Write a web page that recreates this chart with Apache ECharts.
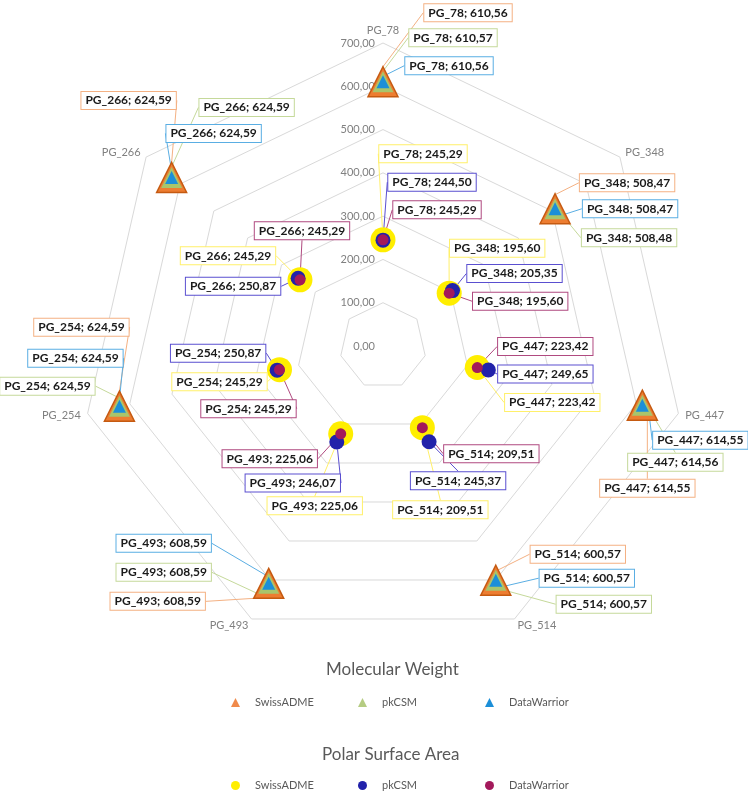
<!DOCTYPE html>
<html>
<head>
<meta charset="utf-8">
<script src="https://cdn.jsdelivr.net/npm/echarts@6/dist/echarts.min.js"></script>
<style>
html, body { margin: 0; padding: 0; background: #fff; }
#chart { width: 748px; height: 792px; }
</style>
</head>
<body>
<div id="chart"></div>
<script>
// axis order, clockwise from the top
var categories = ['PG_78', 'PG_348', 'PG_447', 'PG_514', 'PG_493', 'PG_254', 'PG_266'];
var tools = ['SwissADME', 'pkCSM', 'DataWarrior'];

// Molecular Weight
var mwSwiss       = [610.56, 508.47, 614.55, 600.57, 608.59, 624.59, 624.59];
var mwPkcsm       = [610.57, 508.48, 614.56, 600.57, 608.59, 624.59, 624.59];
var mwDataWarrior = [610.56, 508.47, 614.55, 600.57, 608.59, 624.59, 624.59];

// Polar Surface Area
var psaSwiss       = [245.29, 195.60, 223.42, 209.51, 225.06, 245.29, 245.29];
var psaPkcsm       = [244.50, 205.35, 249.65, 245.37, 246.07, 250.87, 250.87];
var psaDataWarrior = [245.29, 195.60, 223.42, 209.51, 225.06, 245.29, 245.29];

var radiusMax = 700;
var radiusStep = 100;

// where each data label sits relative to its marker (px)
var shiftMwSwiss = [[85, -69], [72, -26], [5, 83], [82, -26], [-111, 18], [-38, -79], [-43, -77]];
var shiftMwPkcsm = [[70, -44], [74, 29], [33, 57], [108, 24], [-105, -11], [-72, -20], [75, -70]];
var shiftMwDw    = [[66, -16], [75, 0], [58, 35], [91, -2], [-105, -40], [-44, -48], [42, -44]];
var shiftPsaSwiss = [[40, -86], [48, -45], [75, 35], [18, 82], [-26, 72], [-60, 12], [-72, -24]];
var shiftPsaPkcsm = [[49, -58], [62, -17], [57, 4], [29, 39], [-44, 41], [-59, -17], [-65, 8]];
var shiftPsaDw    = [[54, -30], [71, 8], [68, -21], [69, 26], [-71, 25], [-31, 39], [2, -49]];

var CX = 383, CY = 346, R = 303;
var FONT = 'Lato';
var legendX = [231, 358, 485];

function comma(v) {
    return v.toFixed(2).replace('.', ',');
}

function makeSeries(name, values, symbol, size, fill, border, labelColor, shifts) {
    return {
        name: name,
        type: 'scatter',
        coordinateSystem: 'polar',
        symbol: symbol,
        symbolSize: size,
        data: values.map(function (v, i) { return [v, i]; }),
        itemStyle: {
            color: fill,
            borderColor: border,
            borderWidth: border ? 1.5 : 0,
            opacity: 1
        },
        label: {
            show: true,
            position: 'inside',
            formatter: function (p) {
                return categories[p.data[1]] + '; ' + comma(p.data[0]);
            },
            color: '#1a1a1a',
            fontFamily: FONT,
            fontWeight: 'bold',
            fontSize: 12,
            backgroundColor: '#fff',
            borderColor: labelColor,
            borderWidth: 1,
            padding: [3, 4, 2, 4]
        },
        labelLine: {
            show: true,
            lineStyle: { color: labelColor, width: 1 }
        },
        labelLayout: function (p) {
            var s = shifts[p.dataIndex];
            return { dx: s[0], dy: s[1] };
        },
        emphasis: { disabled: true }
    };
}

// radar indicators run counter-clockwise, the data runs clockwise
var radarIndicators = [categories[0]].concat(categories.slice(1).reverse()).map(function (c) {
    return { name: c, min: 0, max: radiusMax };
});

// one legend per entry so the columns line up like the original
function legendEntry(prefix, icon, color, idx, top) {
    return {
        data: [{ name: prefix + ' ' + tools[idx], icon: icon, itemStyle: { color: color, borderWidth: 0 } }],
        left: legendX[idx], top: top, padding: 0,
        itemWidth: 9, itemHeight: 9,
        selectedMode: false,
        formatter: function (n) { return n.replace(/^(MW|PSA) /, ''); },
        textStyle: { color: '#595959', fontFamily: FONT, fontSize: 11, padding: [0, 0, 0, 10] }
    };
}

var option = {
    backgroundColor: '#fff',
    animation: false,
    title: [{
        text: 'Molecular Weight',
        left: 326, top: 661, padding: 0,
        textStyle: { fontSize: 17, fontWeight: 'normal', color: '#595959', fontFamily: FONT }
    }, {
        text: 'Polar Surface Area',
        left: 322, top: 746, padding: 0,
        textStyle: { fontSize: 17, fontWeight: 'normal', color: '#595959', fontFamily: FONT }
    }],
    legend: [
        legendEntry('MW', 'triangle', '#F08A4B', 0, 697),
        legendEntry('MW', 'triangle', '#B5CC82', 1, 697),
        legendEntry('MW', 'triangle', '#1C8FD8', 2, 697),
        legendEntry('PSA', 'circle', '#FFEE00', 0, 780),
        legendEntry('PSA', 'circle', '#2222AA', 1, 780),
        legendEntry('PSA', 'circle', '#A3195B', 2, 780)
    ],
    radar: {
        center: [CX, CY],
        radius: R,
        startAngle: 90,
        shape: 'polygon',
        splitNumber: radiusMax / radiusStep,
        indicator: radarIndicators,
        nameGap: 7,
        axisName: { color: '#808080', fontSize: 11, fontFamily: FONT },
        axisLine: { show: false },
        axisTick: { show: false },
        axisLabel: { show: false },
        splitArea: { show: false },
        splitLine: { lineStyle: { color: '#d9d9d9', width: 1 } }
    },
    polar: { center: [CX, CY], radius: R },
    angleAxis: {
        type: 'category',
        data: categories,
        boundaryGap: false,
        startAngle: 90,
        clockwise: true,
        axisLine: { show: false },
        axisTick: { show: false },
        axisLabel: { show: false },
        splitLine: { show: false }
    },
    radiusAxis: {
        type: 'value',
        min: 0,
        max: radiusMax,
        interval: radiusStep,
        axisLine: { show: false },
        axisTick: { show: false },
        splitLine: { show: false },
        axisLabel: {
            color: '#808080',
            fontSize: 11,
            fontFamily: FONT,
            formatter: function (v) { return comma(v); }
        }
    },
    series: [
        makeSeries('MW SwissADME', mwSwiss, 'triangle', [30, 30], '#ED7D31', '#C55A11', '#F4B183', shiftMwSwiss),
        makeSeries('MW pkCSM', mwPkcsm, 'triangle', [21, 21], '#A9C56B', null, '#C5D99A', shiftMwPkcsm),
        makeSeries('MW DataWarrior', mwDataWarrior, 'triangle', [13, 13], '#1C8FD8', null, '#5AAEE3', shiftMwDw),
        makeSeries('PSA SwissADME', psaSwiss, 'circle', 25, '#FFEE00', null, '#FFF06A', shiftPsaSwiss),
        makeSeries('PSA pkCSM', psaPkcsm, 'circle', 15, '#2222AA', null, '#5A4FD0', shiftPsaPkcsm),
        makeSeries('PSA DataWarrior', psaDataWarrior, 'circle', 11, '#A3195B', null, '#B04A80', shiftPsaDw)
    ]
};

var chart = echarts.init(document.getElementById('chart'), null, { renderer: 'canvas' });
chart.setOption(option);
</script>
</body>
</html>
